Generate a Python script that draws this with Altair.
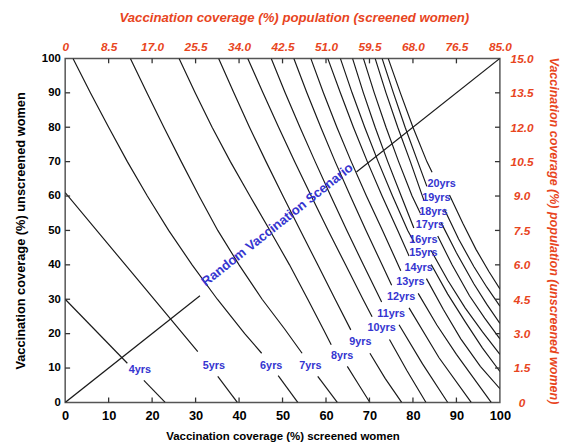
import altair as alt
import pandas as pd

# ---- curve segments (x, y); each curve is broken at its label ----
yrs4_up = [(0, 30), (14.3, 11.4)]
yrs4_lo = [(18.1, 6.4), (23, 0)]
yrs5_up = [(0, 61), (15.5, 37.5), (30.5, 14.8)]
yrs5_lo = [(35.1, 7.6), (39.6, 0)]
yrs6_up = [(1.8, 100), (5.8, 90), (10, 80), (14.3, 70), (18.9, 60), (23.8, 50), (29.2, 40), (35, 30), (41.3, 20), (45.2, 14.3)]
yrs6_lo = [(49, 7.8), (53.5, 0)]
yrs7_up = [(15, 100), (18.8, 90), (22.7, 80), (26.7, 70), (30.8, 60), (35.1, 50), (40, 40), (45.3, 30), (50.4, 21.5), (54.5, 14.3)]
yrs7_lo = [(58.1, 7.6), (62.6, 0)]
yrs8_up = [(26.2, 100), (29.9, 90), (33.8, 80), (38, 70), (42.5, 60), (47.1, 50), (51.6, 40), (55.8, 30), (59.5, 21), (61.2, 16.8)]
yrs8_lo = [(64.9, 10.5), (67.5, 5.2), (70.1, 0)]
yrs9_up = [(35.3, 100), (38.8, 90), (42.4, 80), (46.2, 70), (50.1, 60), (54.1, 50), (58.1, 40), (62.1, 30), (65.7, 21.1)]
yrs9_lo = [(70.1, 14.3), (73.6, 7), (77.4, 0)]
yrs10_up = [(42, 100), (45.5, 90), (49.1, 80), (52.8, 70), (56.6, 60), (60.5, 50), (64.5, 40), (68.5, 30), (70.6, 24.9)]
yrs10_lo = [(74.6, 18.3), (78.6, 9.3), (83, 0)]
yrs11_up = [(47.4, 100), (50.6, 90), (54, 80), (57.5, 70), (61.1, 60), (64.8, 50), (68.6, 40), (72.8, 29.2)]
yrs11_lo = [(76.8, 22.6), (82.2, 11.2), (88, 0)]
yrs12_up = [(52.6, 100), (55.6, 90), (58.8, 80), (62.1, 70), (65.6, 60), (69.2, 50), (72.9, 40), (75.1, 34.1)]
yrs12_lo = [(79.1, 27.5), (86, 13), (93.4, 0)]
yrs13_up = [(56.5, 100), (59.4, 90), (62.5, 80), (65.8, 70), (69.3, 60), (73, 50), (77.2, 38.3)]
yrs13_lo = [(81.2, 31.7), (85.5, 22.5), (90, 14), (98, 0)]
yrs14_up = [(60.4, 100), (63.3, 90), (66.3, 80), (69.5, 70), (72.9, 60), (76.5, 50), (79.1, 42.6)]
yrs14_lo = [(83.1, 36), (87, 27), (91, 18.5), (95.5, 10.5), (100, 4)]
yrs15_up = [(63.3, 100), (66, 90), (68.9, 80), (72, 70), (75.3, 60), (78.8, 50), (80.2, 46.7)]
yrs15_lo = [(84.2, 40.1), (88, 31.5), (92, 23.5), (96, 15.8), (100, 9)]
yrs16_up = [(66.1, 100), (68.6, 90), (71.3, 80), (74.2, 70), (77.3, 60), (80.2, 50.7)]
yrs16_lo = [(84.2, 44.1), (88, 35.5), (92, 27.5), (96, 20.5), (100, 14)]
yrs17_up = [(68.6, 100), (71.1, 90), (73.8, 80), (76.7, 70), (79.8, 60), (81.7, 55)]
yrs17_lo = [(85.7, 48.4), (89, 40), (93, 31), (96.5, 24.5), (100, 18.5)]
yrs18_up = [(71.3, 100), (73.8, 90), (76.5, 80), (79.4, 70), (82.5, 58.8)]
yrs18_lo = [(86.5, 52.2), (90, 43.5), (94, 34.5), (97, 28.5), (100, 23)]
yrs19_up = [(72.9, 100), (75.5, 90), (78.2, 80), (81.1, 70), (83.2, 62.8)]
yrs19_lo = [(87.2, 56.2), (90.5, 47.5), (94, 39.5), (97, 33.5), (100, 28)]
yrs20_up = [(74.3, 100), (77.1, 90), (80, 80), (83.2, 70), (84.4, 66.9)]
yrs20_lo = [(88.4, 60.3), (91.5, 52), (94.5, 44.5), (97.5, 38), (100, 33)]

# random vaccination scenario diagonal (broken under its label)
diag_lo = [(0, 0), (31, 31)]
diag_hi = [(67, 67), (100, 100)]

# curve labels
label_text = ["4yrs", "5yrs", "6yrs", "7yrs", "8yrs", "9yrs", "10yrs", "11yrs", "12yrs",
              "13yrs", "14yrs", "15yrs", "16yrs", "17yrs", "18yrs", "19yrs", "20yrs"]
label_x = [17.2, 34.2, 47.4, 56.4, 63.7, 67.9, 72.8, 75.0, 77.3, 79.4, 81.3, 82.4, 82.4, 83.9, 84.7, 85.4, 86.6]
label_y = [9.4, 10.7, 10.7, 10.7, 13.4, 17.7, 21.5, 25.8, 30.7, 34.9, 39.2, 43.3, 47.3, 51.6, 55.4, 59.4, 63.5]

diag_label = "Random Vaccination Scenario"
diag_label_pos = (48.8, 51.6)

# axis ticks and labels
main_ticks = [0, 10, 20, 30, 40, 50, 60, 70, 80, 90, 100]
inner_ticks = [10, 20, 30, 40, 50, 60, 70, 80, 90]
top_labels = ["0", "8.5", "17.0", "25.5", "34.0", "42.5", "51.0", "59.5", "68.0", "76.5", "85.0"]
right_labels = ["0", "1.5", "3.0", "4.5", "6.0", "7.5", "9.0", "10.5", "12.0", "13.5", "15.0"]

bottom_title = "Vaccination coverage (%) screened women"
left_title = "Vaccination coverage (%) unscreened women"
top_title = "Vaccination coverage (%) population (screened women)"
right_title = "Vaccination coverage (%) population (unscreened women)"

RED = "#e8451e"
BLUE = "#3535d0"
FONT = "Liberation Sans"
W, H = 441, 349

# ---- build tables ----
curve_parts = [
    ("4", yrs4_up, yrs4_lo), ("5", yrs5_up, yrs5_lo), ("6", yrs6_up, yrs6_lo),
    ("7", yrs7_up, yrs7_lo), ("8", yrs8_up, yrs8_lo), ("9", yrs9_up, yrs9_lo),
    ("10", yrs10_up, yrs10_lo), ("11", yrs11_up, yrs11_lo), ("12", yrs12_up, yrs12_lo),
    ("13", yrs13_up, yrs13_lo), ("14", yrs14_up, yrs14_lo), ("15", yrs15_up, yrs15_lo),
    ("16", yrs16_up, yrs16_lo), ("17", yrs17_up, yrs17_lo), ("18", yrs18_up, yrs18_lo),
    ("19", yrs19_up, yrs19_lo), ("20", yrs20_up, yrs20_lo),
]
rows = []
for name, up, lo in curve_parts:
    for part, pts in (("a", up), ("b", lo)):
        for i, (x, y) in enumerate(pts):
            rows.append({"seg": name + part, "x": x, "y": y, "i": i})
df_curves = pd.DataFrame(rows)

drows = []
for part, pts in (("lo", diag_lo), ("hi", diag_hi)):
    for i, (x, y) in enumerate(pts):
        drows.append({"seg": part, "x": x, "y": y, "i": i})
df_diag = pd.DataFrame(drows)

df_labels = pd.DataFrame({"x": label_x, "y": label_y, "t": label_text})
df_diag_label = pd.DataFrame({"x": [diag_label_pos[0]], "y": [diag_label_pos[1]], "t": [diag_label]})
df_ticks = pd.DataFrame({"v": inner_ticks})

xs = alt.Scale(domain=[0, 100], nice=False, zero=False)
ys = alt.Scale(domain=[0, 100], nice=False, zero=False)

top_expr = "[" + ",".join("'%s'" % s for s in top_labels) + "][round(datum.value/10)]"
right_expr = "[" + ",".join("'%s'" % s for s in right_labels) + "][round(datum.value/10)]"

bottom_axis = alt.Axis(orient="bottom", values=main_ticks, title=bottom_title, ticks=False, domain=False,
                       grid=False, labelFont=FONT, labelFontSize=13, labelFontWeight="bold",
                       labelColor="black", labelPadding=7, titleFont=FONT, titleFontSize=11.6,
                       titleFontWeight="bold", titleColor="black", titlePadding=9, labelFlush=False)
left_axis = alt.Axis(orient="left", values=main_ticks, title=left_title, ticks=False, domain=False,
                     grid=False, labelFont=FONT, labelFontSize=11.5, labelFontWeight="bold",
                     labelColor="black", labelPadding=5, titleFont=FONT, titleFontSize=13,
                     titleFontWeight="bold", titleColor="black", titlePadding=14, labelFlush=False)
top_axis = alt.Axis(orient="top", values=main_ticks, title=top_title, ticks=False, domain=False,
                    grid=False, labelExpr=top_expr, labelFont=FONT, labelFontSize=12,
                    labelFontWeight="bold", labelFontStyle="italic", labelColor=RED, labelPadding=5,
                    titleFont=FONT, titleFontSize=13.4, titleFontWeight="bold", titleFontStyle="italic",
                    titleColor=RED, titlePadding=16, titleX=232, titleAlign="center", labelFlush=False)
right_axis = alt.Axis(orient="right", values=main_ticks, title=right_title, ticks=False, domain=False,
                      grid=False, labelExpr=right_expr, labelFont=FONT, labelFontSize=12,
                      labelFontWeight="bold", labelFontStyle="italic", labelColor=RED, labelPadding=22,
                      labelAlign="center", titleFont=FONT, titleFontSize=12.7, titleFontWeight="bold",
                      titleFontStyle="italic", titleColor=RED, titlePadding=14, labelFlush=False)

curves = alt.Chart(df_curves).mark_line(color="#1a1a1a", strokeWidth=1.2, clip=True).encode(
    x=alt.X("x:Q", scale=xs, axis=bottom_axis),
    y=alt.Y("y:Q", scale=ys, axis=left_axis),
    detail="seg:N",
    order="i:Q",
)

diag = alt.Chart(df_diag).mark_line(color="#1a1a1a", strokeWidth=1.2, clip=True).encode(
    x=alt.X("x:Q", scale=xs, axis=top_axis),
    y=alt.Y("y:Q", scale=ys, axis=right_axis),
    detail="seg:N",
    order="i:Q",
)

labels = alt.Chart(df_labels).mark_text(color=BLUE, font=FONT, fontSize=11, fontWeight="bold").encode(
    x=alt.X("x:Q", scale=xs, axis=None),
    y=alt.Y("y:Q", scale=ys, axis=None),
    text="t:N",
)

diag_text = alt.Chart(df_diag_label).mark_text(color=BLUE, font=FONT, fontSize=13.4, fontWeight="bold",
                                               angle=321.6, align="center", baseline="middle").encode(
    x=alt.X("x:Q", scale=xs, axis=None),
    y=alt.Y("y:Q", scale=ys, axis=None),
    text="t:N",
)

# short inward ticks on all four sides of the frame
tick_style = dict(color="#333", strokeWidth=1.3)
t_bottom = alt.Chart(df_ticks).mark_rule(**tick_style).encode(
    x=alt.X("v:Q", scale=xs, axis=None), y=alt.value(H), y2=alt.value(H - 5))
t_top = alt.Chart(df_ticks).mark_rule(**tick_style).encode(
    x=alt.X("v:Q", scale=xs, axis=None), y=alt.value(0), y2=alt.value(5))
t_left = alt.Chart(df_ticks).mark_rule(**tick_style).encode(
    y=alt.Y("v:Q", scale=ys, axis=None), x=alt.value(0), x2=alt.value(5))
t_right = alt.Chart(df_ticks).mark_rule(**tick_style).encode(
    y=alt.Y("v:Q", scale=ys, axis=None), x=alt.value(W), x2=alt.value(W - 5))

chart = alt.layer(curves, diag, labels, diag_text, t_bottom, t_top, t_left, t_right).resolve_axis(
    x="independent", y="independent"
).properties(
    width=W, height=H,
    autosize=alt.AutoSizeParams(type="none"),
    padding={"left": 58, "top": 48, "right": 63, "bottom": 39},
    background="white",
).configure_view(stroke="#555", strokeWidth=1.5)

chart.save("out.html", embed_options={"renderer": "svg", "actions": False})
